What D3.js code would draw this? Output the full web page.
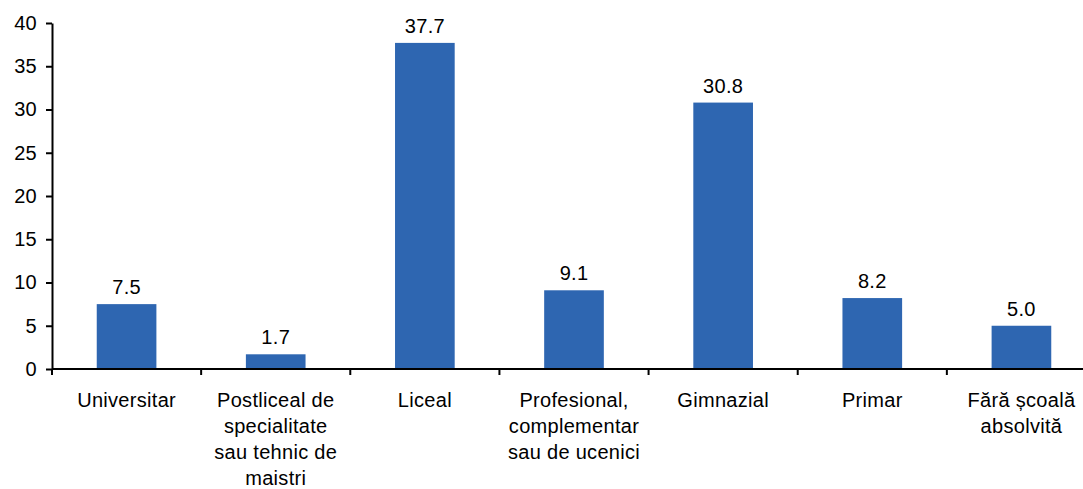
<!DOCTYPE html>
<html lang="ro">
<head>
    <meta charset="UTF-8">
    <title>Bar chart</title>
    <script src="https://d3js.org/d3.v7.min.js"></script>
    <style>
        body { margin: 0; background: #fff; }
        text { font-family: "Liberation Sans", Arial, sans-serif; font-size: 20px; fill: #000; letter-spacing: 0.3px; }
        .bar { fill: #2e66b1; }
        .axis path, .axis line { stroke: #000; stroke-width: 2px; }
    </style>
</head>
<body>
    <svg id="chart" width="1083" height="489"></svg>
    <script>
        // data
        var categories = ["Universitar", "Postliceal de specialitate sau tehnic de maistri", "Liceal",
            "Profesional, complementar sau de ucenici", "Gimnazial", "Primar", "Fără școală absolvită"];
        var labelLines = [
            ["Universitar"],
            ["Postliceal de", "specialitate", "sau tehnic de", "maistri"],
            ["Liceal"],
            ["Profesional,", "complementar", "sau de ucenici"],
            ["Gimnazial"],
            ["Primar"],
            ["Fără școală", "absolvită"]
        ];
        var values = [7.5, 1.7, 37.7, 9.1, 30.8, 8.2, 5.0];
        var yTicks = [0, 5, 10, 15, 20, 25, 30, 35, 40];

        var svg = d3.select("#chart");

        var x = d3.scaleBand()
            .domain(categories)
            .range([52, 1096])
            .paddingInner(0.6)
            .paddingOuter(0.3);

        var y = d3.scaleLinear()
            .domain([0, 40])
            .range([369, 23]);

        // bars
        svg.selectAll(".bar")
            .data(values)
            .enter().append("rect")
            .attr("class", "bar")
            .attr("x", function(d, i) { return x(categories[i]); })
            .attr("y", function(d) { return y(d); })
            .attr("width", x.bandwidth())
            .attr("height", function(d) { return y(0) - y(d); });

        // value labels
        svg.selectAll(".val")
            .data(values)
            .enter().append("text")
            .attr("class", "val")
            .attr("x", function(d, i) { return x(categories[i]) + x.bandwidth() / 2; })
            .attr("y", function(d) { return y(d) - 10; })
            .attr("text-anchor", "middle")
            .text(function(d) { return d.toFixed(1); });

        // y axis
        var yAxis = svg.append("g")
            .attr("class", "axis")
            .attr("transform", "translate(52,0)")
            .call(d3.axisLeft(y).tickValues(yTicks).tickSize(6).tickSizeOuter(0).tickPadding(9));
        yAxis.selectAll("text").style("font-size", "20px").style("font-family", "Liberation Sans, Arial, sans-serif");

        // x axis line with ticks between categories
        var step = x.step();
        var x0 = 52;
        svg.append("line")
            .attr("x1", x0).attr("x2", 1083)
            .attr("y1", y(0)).attr("y2", y(0))
            .attr("stroke", "#000").attr("stroke-width", 2);
        svg.selectAll(".xtick")
            .data(d3.range(categories.length))
            .enter().append("line")
            .attr("x1", function(i) { return x0 + i * step; })
            .attr("x2", function(i) { return x0 + i * step; })
            .attr("y1", y(0)).attr("y2", y(0) + 6)
            .attr("stroke", "#000").attr("stroke-width", 2);

        // category labels
        var lab = svg.selectAll(".cat")
            .data(labelLines)
            .enter().append("text")
            .attr("class", "cat")
            .attr("text-anchor", "middle")
            .attr("transform", function(d, i) {
                return "translate(" + (x(categories[i]) + x.bandwidth() / 2) + ",407)";
            });
        lab.selectAll("tspan")
            .data(function(d) { return d; })
            .enter().append("tspan")
            .attr("x", 0)
            .attr("y", function(d, j) { return j * 26; })
            .text(function(d) { return d; });
    </script>
</body>
</html>
